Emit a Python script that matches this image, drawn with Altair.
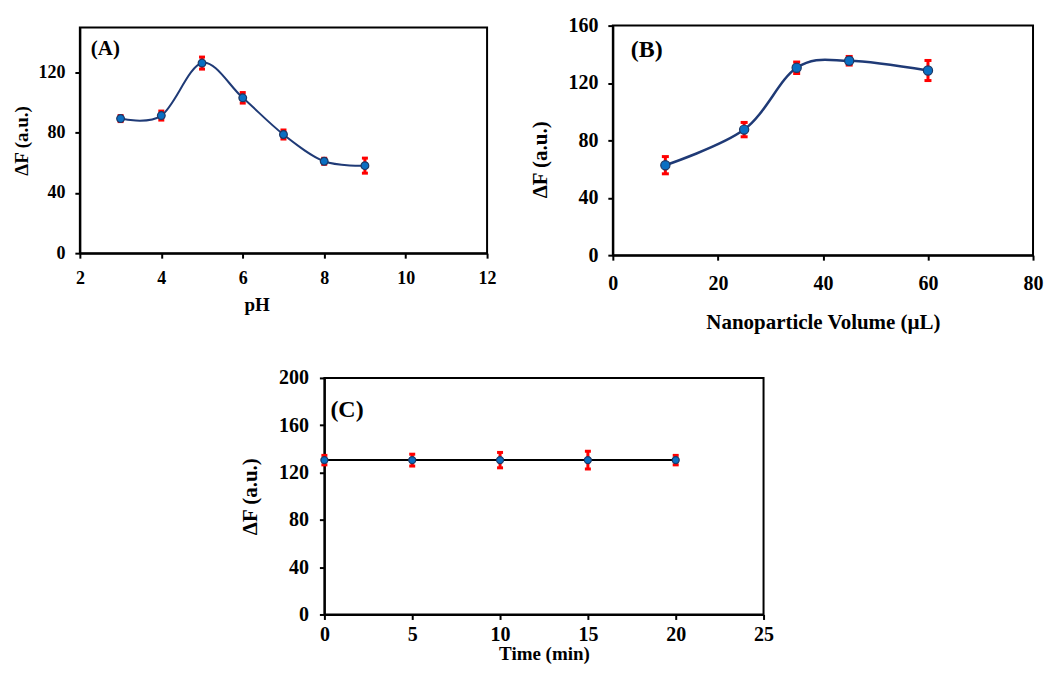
import altair as alt
import pandas as pd

FONT = "Liberation Serif"

# ---- Panel A: pH ----
ph_values = [3, 4, 5, 6, 7, 8, 9]
ph_signal = [89.5, 91.5, 126.4, 103.3, 78.9, 61.1, 58.2]
ph_error = [2, 3, 4, 3.5, 3, 2, 5]

# ---- Panel B: nanoparticle volume ----
vol_values = [10, 25, 35, 45, 60]
vol_signal = [62.7, 87.5, 130.6, 135.5, 128.7]
vol_error = [6, 5, 4, 3, 7]

# ---- Panel C: time ----
time_values = [0, 5, 10, 15, 20]
time_signal = [130.5, 130.5, 130.5, 130.5, 130.5]
time_error = [4, 5, 6.5, 7.5, 4]

Y_TITLE = "ΔF (a.u.)"


def make_df(xs, ys, es):
    return pd.DataFrame({
        "x": xs,
        "y": ys,
        "lo": [v - e for v, e in zip(ys, es)],
        "hi": [v + e for v, e in zip(ys, es)],
    })


def panel(df, xtitle, xdom, xticks, ydom, yticks, w, h, lab_fs, title_fs,
          xlab_pad, ylab_pad, xtitle_y, ytitle_x, line_color, line_w, interp,
          pt_size, label, label_x, label_y, label_fs, cap_w,
          xtitle_x=None, ytitle_y=None, xtitle_fs=None):
    common = dict(
        grid=False, domainColor="black", domainWidth=2, tickColor="black",
        tickWidth=2, tickSize=5, labelFont=FONT, labelFontWeight="bold",
        labelColor="black", titleFont=FONT, titleFontWeight="bold",
        titleColor="black", labelFontSize=lab_fs, titleFontSize=title_fs,
        labelFlush=False,
    )
    xax = dict(common, values=xticks, title=xtitle, labelPadding=xlab_pad,
               titleY=xtitle_y, titleBaseline="middle")
    if xtitle_x is not None:
        xax["titleX"] = xtitle_x
    if xtitle_fs is not None:
        xax["titleFontSize"] = xtitle_fs
    yax = dict(common, values=yticks, title=Y_TITLE, labelPadding=ylab_pad,
               titleX=ytitle_x, titleBaseline="middle")
    if ytitle_y is not None:
        yax["titleY"] = ytitle_y

    xs = alt.Scale(domain=xdom, nice=False, zero=False)
    ys = alt.Scale(domain=ydom, nice=False, zero=False)
    X = lambda f: alt.X(f"{f}:Q", scale=xs, axis=alt.Axis(**xax))
    Y = lambda f: alt.Y(f"{f}:Q", scale=ys, axis=alt.Axis(**yax))

    base = alt.Chart(df)
    line = base.mark_line(interpolate=interp, color=line_color,
                          strokeWidth=line_w).encode(x=X("x"), y=Y("y"))
    bars = base.mark_rule(color="#FF0000", strokeWidth=3).encode(
        x=X("x"), y=Y("lo"), y2="hi")
    cap_lo = base.mark_tick(color="#FF0000", orient="horizontal",
                            size=cap_w, thickness=3, opacity=1).encode(
        x=X("x"), y=Y("lo"))
    cap_hi = base.mark_tick(color="#FF0000", orient="horizontal",
                            size=cap_w, thickness=3, opacity=1).encode(
        x=X("x"), y=Y("hi"))
    pts = base.mark_circle(color="#0A6FC2", stroke="#1F3864",
                           strokeWidth=1.2, size=pt_size, opacity=1).encode(
        x=X("x"), y=Y("y"))
    txt = alt.Chart(pd.DataFrame({"t": [label]})).mark_text(
        align="left", baseline="middle", font=FONT, fontWeight="bold",
        fontSize=label_fs, color="black").encode(
        text="t:N", x=alt.value(label_x), y=alt.value(label_y))
    return alt.layer(bars, cap_lo, cap_hi, line, pts, txt).properties(
        width=w, height=h,
        view=alt.ViewBackground(stroke="black", strokeWidth=2))


chart_a = panel(make_df(ph_values, ph_signal, ph_error), "pH",
                [2, 12], [2, 4, 6, 8, 10, 12], [0, 150], [0, 40, 80, 120],
                408, 226, 18, 19, 11, 10, 51, -58, "#1F3A76", 2,
                "cardinal", 60, "(A)", 11, 21, 21, 6, xtitle_x=177)

chart_b = panel(make_df(vol_values, vol_signal, vol_error),
                "Nanoparticle Volume (µL)",
                [0, 80], [0, 20, 40, 60, 80], [0, 160],
                [0, 40, 80, 120, 160],
                421, 230, 20, 21, 13, 10, 67, -72, "#1F3A76", 2.5,
                "cardinal", 85, "(B)", 18, 24, 24, 7, ytitle_y=134)

chart_c = panel(make_df(time_values, time_signal, time_error), "Time (min)",
                [0, 25], [0, 5, 10, 15, 20, 25], [0, 200],
                [0, 40, 80, 120, 160, 200],
                440, 237, 20, 21, 5, 11, 39.5, -74, "black", 2,
                "linear", 50, "(C)", 6, 32, 24, 6, xtitle_fs=19)

spacer = alt.Chart(pd.DataFrame({"a": [0]})).mark_point(opacity=0).encode(
    x=alt.value(0), y=alt.value(0)).properties(
    width=245, height=10,
    view=alt.ViewBackground(stroke="transparent", strokeWidth=0))

top_row = alt.hconcat(chart_a, chart_b, spacing=126, bounds="flush",
                      center=True)
bottom_row = alt.hconcat(spacer, chart_c, spacing=0, bounds="flush")

chart = alt.vconcat(top_row, bottom_row, spacing=34).properties(
    padding={"left": 4, "top": 6, "right": 0, "bottom": -1}
)

chart.save("out.html", embed_options={"renderer": "svg", "actions": False})
